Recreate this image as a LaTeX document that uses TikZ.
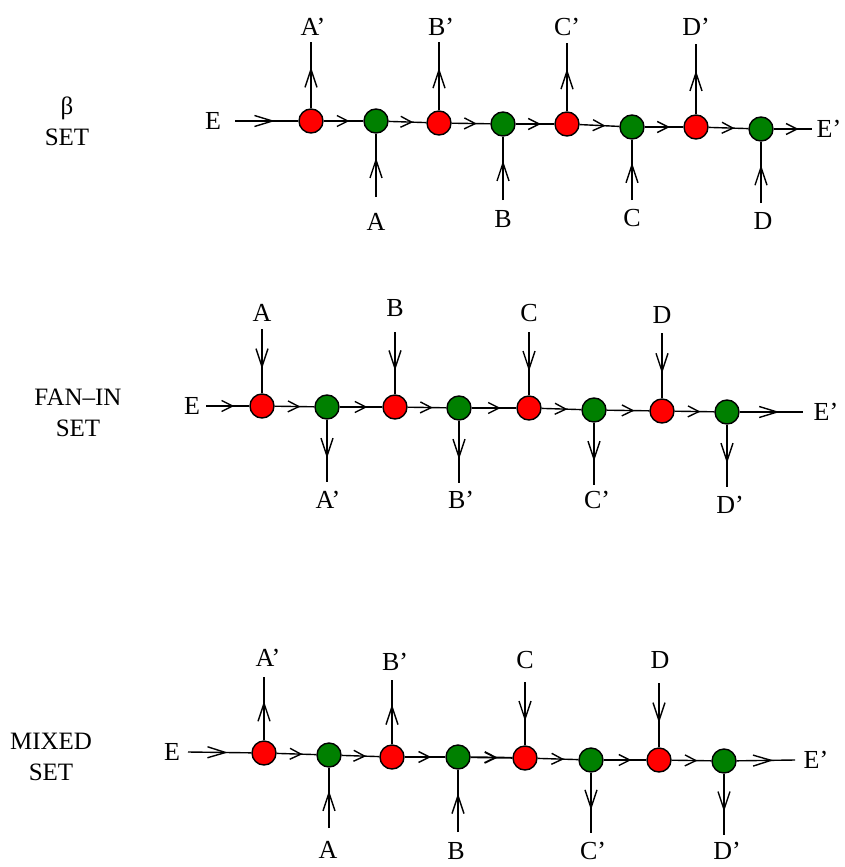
\documentclass[tikz,border=0pt]{standalone}
\usepackage{fontspec}
\setmainfont{Liberation Serif}
\usepackage{tikz}
\usetikzlibrary{arrows.meta}
\usetikzlibrary{decorations.markings}
\definecolor{ballgreen}{RGB}{0,128,0}

\begin{document}
\begin{tikzpicture}[x=1pt, y=-1pt, line width=1.4pt,
    redball/.style = {circle, draw, fill=red, minimum size=24pt, inner sep=0pt},
    greenball/.style = {circle, draw, fill=ballgreen, minimum size=24pt, inner sep=0pt},
    lbl/.style = {font=\fontsize{26}{28}\selectfont, inner sep=0pt},
    setname/.style = {font=\fontsize{25}{31}\selectfont, align=center},
    flow/.style = {postaction={decorate}, decoration={markings,
        mark=at position 0.65 with {\arrow{Straight Barb[length=11pt, width=11pt]}}}},
    flowlong/.style = {postaction={decorate}, decoration={markings,
        mark=at position 0.63 with {\arrow{Straight Barb[length=18pt, width=11pt]}}}},
    flowv/.style = {postaction={decorate}, decoration={markings,
        mark=at position 0.62 with {\arrow{Straight Barb[length=18pt, width=12pt]}}}}]
    \useasboundingbox (0,0) rectangle (844,867);

    % beta set
    \node[setname] (bName) at (67,121) {β\\SET};
    \node[redball]   (bR1) at (311,121) {};
    \node[greenball] (bG1) at (376,121) {};
    \node[redball]   (bR2) at (439,123) {};
    \node[greenball] (bG2) at (503,124) {};
    \node[redball]   (bR3) at (567,124) {};
    \node[greenball] (bG3) at (632,127) {};
    \node[redball]   (bR4) at (696,127) {};
    \node[greenball] (bG4) at (761,129) {};
    \node[lbl] (bE)  at (213,121) {E};
    \node[lbl] (bEp) at (829,129) {E'};
    \node[lbl] (bAp) at (313,27) {A'};
    \node[lbl] (bBp) at (441,27) {B'};
    \node[lbl] (bCp) at (567,27) {C'};
    \node[lbl] (bDp) at (696,27) {D'};
    \node[lbl] (bA)  at (376,222) {A};
    \node[lbl] (bB)  at (503,219) {B};
    \node[lbl] (bC)  at (632,218) {C};
    \node[lbl] (bD)  at (763,221) {D};
    \coordinate (bEin)  at (235,121);
    \coordinate (bEout) at (812,129);
    \coordinate (bAout) at (311,42);
    \coordinate (bBout) at (439,42);
    \coordinate (bCout) at (567,43);
    \coordinate (bDout) at (696,44);
    \coordinate (bAin)  at (376,197);
    \coordinate (bBin)  at (503,200);
    \coordinate (bCin)  at (632,200);
    \coordinate (bDin)  at (761,203);
    \draw (bEin) edge[flowlong] (bR1) (bR1) edge[flow] (bG1) (bG1) edge[flow] (bR2)
          (bR2) edge[flow] (bG2) (bG2) edge[flow] (bR3) (bR3) edge[flow] (bG3)
          (bG3) edge[flow] (bR4) (bR4) edge[flow] (bG4) (bG4) edge[flow] (bEout);
    \draw (bR1) edge[flowv] (bAout) (bR2) edge[flowv] (bBout)
          (bR3) edge[flowv] (bCout) (bR4) edge[flowv] (bDout);
    \draw (bAin) edge[flowv] (bG1) (bBin) edge[flowv] (bG2)
          (bCin) edge[flowv] (bG3) (bDin) edge[flowv] (bG4);

    % fan-in set
    \node[setname] (fName) at (78,413) {FAN--IN\\SET};
    \node[redball]   (fR1) at (262,406) {};
    \node[greenball] (fG1) at (327,407) {};
    \node[redball]   (fR2) at (395,407) {};
    \node[greenball] (fG2) at (459,408) {};
    \node[redball]   (fR3) at (529,408) {};
    \node[greenball] (fG3) at (594,410) {};
    \node[redball]   (fR4) at (662,411) {};
    \node[greenball] (fG4) at (727,412) {};
    \node[lbl] (fE)  at (192,406) {E};
    \node[lbl] (fEp) at (826,412) {E'};
    \node[lbl] (fA)  at (262,313) {A};
    \node[lbl] (fB)  at (395,308) {B};
    \node[lbl] (fC)  at (529,313) {C};
    \node[lbl] (fD)  at (662,315) {D};
    \node[lbl] (fAp) at (328,500) {A'};
    \node[lbl] (fBp) at (461,500) {B'};
    \node[lbl] (fCp) at (597,500) {C'};
    \node[lbl] (fDp) at (730,505) {D'};
    \coordinate (fEin)  at (206,406);
    \coordinate (fEout) at (803,412);
    \coordinate (fAin)  at (262,329);
    \coordinate (fBin)  at (395,332);
    \coordinate (fCin)  at (529,332);
    \coordinate (fDin)  at (662,333);
    \coordinate (fAout) at (327,482);
    \coordinate (fBout) at (459,483);
    \coordinate (fCout) at (594,485);
    \coordinate (fDout) at (727,487);
    \draw (fEin) edge[flow] (fR1) (fR1) edge[flow] (fG1) (fG1) edge[flow] (fR2)
          (fR2) edge[flow] (fG2) (fG2) edge[flow] (fR3) (fR3) edge[flow] (fG3)
          (fG3) edge[flow] (fR4) (fR4) edge[flow] (fG4) (fG4) edge[flowlong] (fEout);
    \draw (fAin) edge[flowv] (fR1) (fBin) edge[flowv] (fR2)
          (fCin) edge[flowv] (fR3) (fDin) edge[flowv] (fR4);
    \draw (fG1) edge[flowv] (fAout) (fG2) edge[flowv] (fBout)
          (fG3) edge[flowv] (fCout) (fG4) edge[flowv] (fDout);

    % mixed set
    \node[setname] (mName) at (51,757) {MIXED\\SET};
    \node[redball]   (mR1) at (264,753) {};
    \node[greenball] (mG1) at (329,755) {};
    \node[redball]   (mR2) at (392,757) {};
    \node[greenball] (mG2) at (458,757) {};
    \node[redball]   (mR3) at (525,758) {};
    \node[greenball] (mG3) at (591,760) {};
    \node[redball]   (mR4) at (659,760) {};
    \node[greenball] (mG4) at (724,761) {};
    \node[lbl] (mE)  at (172,752) {E};
    \node[lbl] (mEp) at (816,760) {E'};
    \node[lbl] (mAp) at (268,658) {A'};
    \node[lbl] (mBp) at (395,662) {B'};
    \node[lbl] (mC)  at (525,660) {C};
    \node[lbl] (mD)  at (660,660) {D};
    \node[lbl] (mA)  at (328,850) {A};
    \node[lbl] (mB)  at (456,851) {B};
    \node[lbl] (mCp) at (593,851) {C'};
    \node[lbl] (mDp) at (727,851) {D'};
    \coordinate (mEin)  at (188,752);
    \coordinate (mEout) at (795,760);
    \coordinate (mAout) at (264,677);
    \coordinate (mBout) at (392,680);
    \coordinate (mCin)  at (525,682);
    \coordinate (mDin)  at (659,683);
    \coordinate (mAin)  at (329,828);
    \coordinate (mBin)  at (458,832);
    \coordinate (mCout) at (591,833);
    \coordinate (mDout) at (724,835);
    \draw (mEin) edge[flowlong] (mR1) (mR1) edge[flow] (mG1) (mG1) edge[flow] (mR2)
          (mR2) edge[flow] (mG2) (mG2) edge[flow, line width=1.9pt] (mR3) (mR3) edge[flow] (mG3)
          (mG3) edge[flow] (mR4) (mR4) edge[flow] (mG4) (mG4) edge[flowlong] (mEout);
    \draw (mR1) edge[flowv] (mAout) (mR2) edge[flowv] (mBout)
          (mCin) edge[flowv] (mR3) (mDin) edge[flowv] (mR4);
    \draw (mAin) edge[flowv] (mG1) (mBin) edge[flowv] (mG2)
          (mG3) edge[flowv] (mCout) (mG4) edge[flowv] (mDout);

\end{tikzpicture}
\end{document}
